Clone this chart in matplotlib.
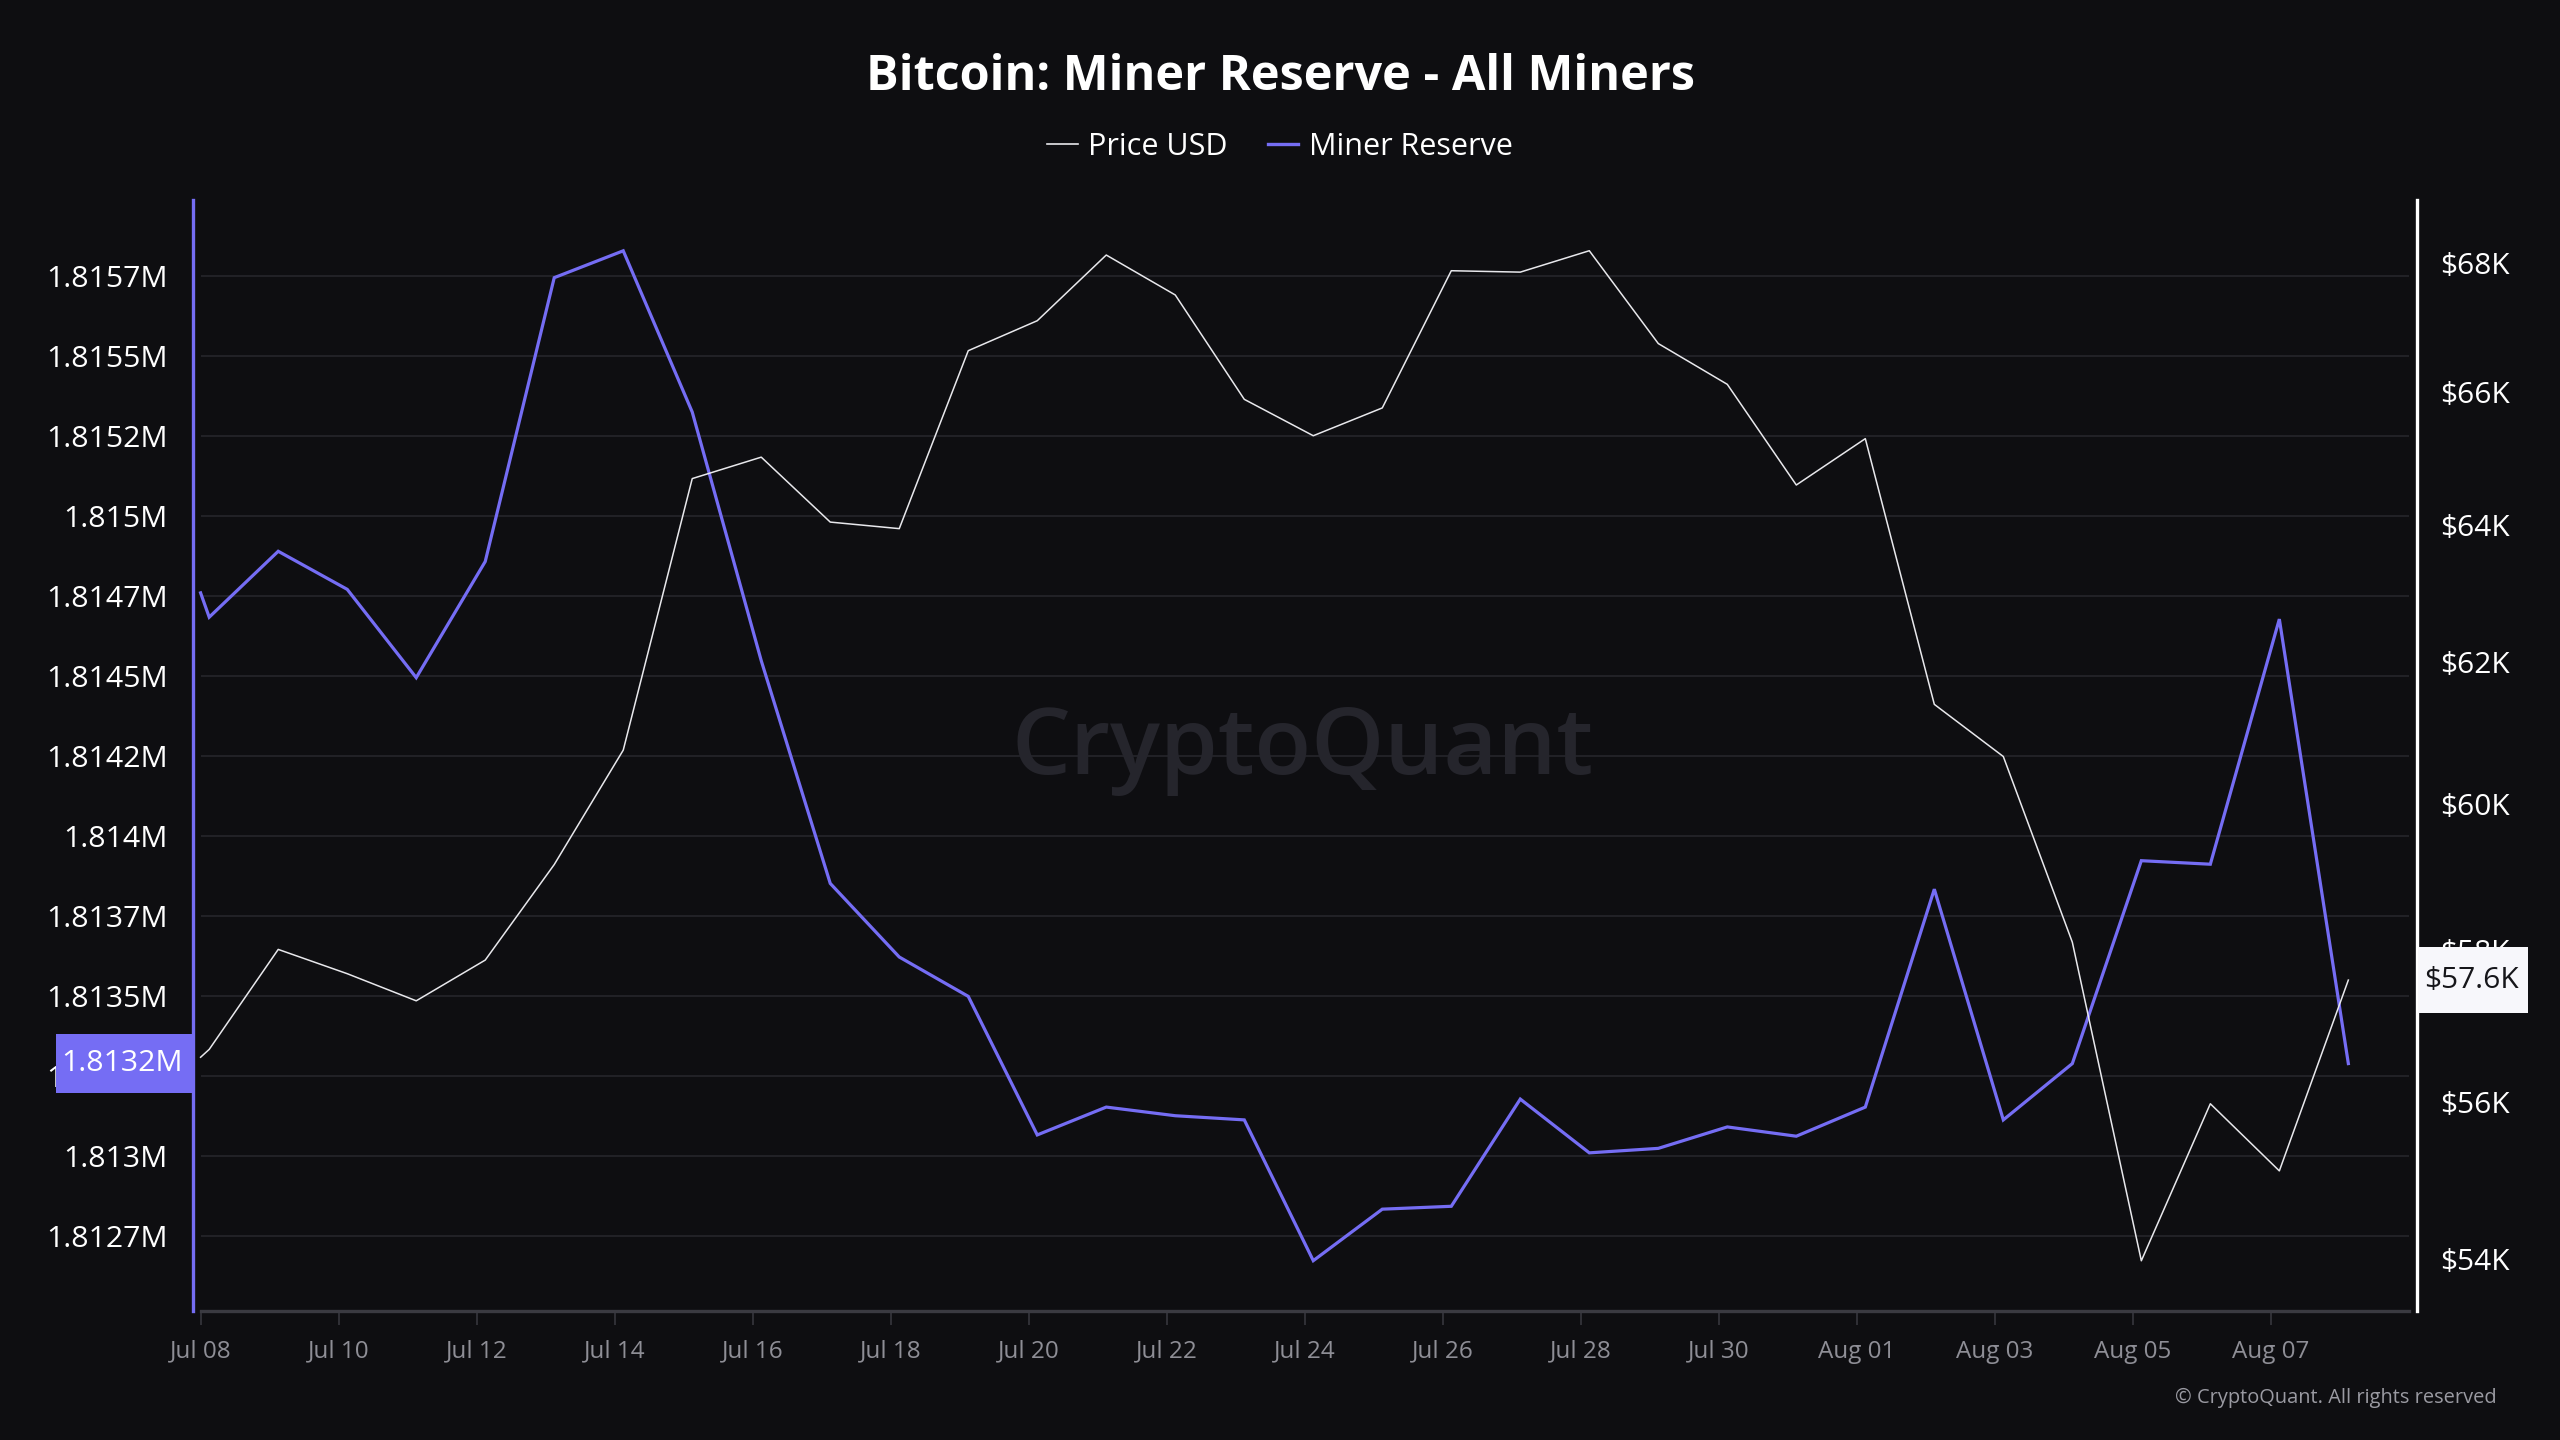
#!/usr/bin/env python3
import numpy as np
import pandas as pd
import matplotlib
matplotlib.use("Agg")
import matplotlib.pyplot as plt
import matplotlib.dates as mdates
import matplotlib.transforms as mtransforms
from matplotlib.patches import Rectangle
from matplotlib.ticker import FixedLocator, FixedFormatter, NullLocator

# --- values ---
# first sample sits on the left edge, the others are daily points (~03:00)
first_stamp = ["2024-07-08 00:00"]
daily_start = "2024-07-08 03:00"
n_daily = 32

# Miner reserve, millions of BTC
reserve_m = [
    1.814761, 1.814685, 1.814891, 1.814772, 1.814496, 1.814859, 1.815746,
    1.815830, 1.815326, 1.814549, 1.813853, 1.813623, 1.813500, 1.813067,
    1.813154, 1.813127, 1.813114, 1.812674, 1.812835, 1.812844, 1.813179,
    1.813011, 1.813025, 1.813092, 1.813063, 1.813154, 1.813835, 1.813114,
    1.813290, 1.813924, 1.813913, 1.814679, 1.813290,
]
# BTC price, USD
price_usd = [
    56578, 56681, 58008, 57683, 57322, 57865, 59159, 60747, 64688, 65010,
    64040, 63943, 66632, 67096, 68124, 67497, 65886, 65333, 65755, 67877,
    67855, 68192, 66742, 66115, 64592, 65289, 61394, 60657, 58105, 53974,
    55972, 55109, 57598,
]

reserve_ticks = [1.81275, 1.81300, 1.81325, 1.81350, 1.81375, 1.81400, 1.81425,
                 1.81450, 1.81475, 1.81500, 1.81525, 1.81550, 1.81575]
reserve_labels = ["1.8127M", "1.813M", "1.8132M", "1.8135M", "1.8137M", "1.814M",
                  "1.8142M", "1.8145M", "1.8147M", "1.815M", "1.8152M", "1.8155M",
                  "1.8157M"]
price_ticks = [54000, 56000, 58000, 60000, 62000, 64000, 66000, 68000]
price_labels = ["$54K", "$56K", "$58K", "$60K", "$62K", "$64K", "$66K", "$68K"]
date_ticks = pd.date_range("2024-07-08", "2024-08-07", freq="2D")
date_labels = [d.strftime("%b %d") for d in date_ticks]

last_reserve_label = "1.8132M"
last_price_label = "$57.6K"

axis_start = "2024-07-08"
axis_end = "2024-08-09"
reserve_lim = (1.812518, 1.8159875)
price_lim = (53355, 68991)

# --- style ---
BG = "#0e0e11"
BLUE = "#756df4"
GRID = "#222227"
AXIS_GRAY = "#3a3a41"
TICK_TXT = "#8e8e96"
FONT = ["Open Sans", "DejaVu Sans"]
plt.rcParams["font.family"] = FONT

dates = pd.to_datetime(first_stamp).append(
    pd.date_range(daily_start, periods=n_daily, freq="D"))

fig = plt.figure(figsize=(25.6, 14.4), dpi=100, facecolor=BG)
ax = fig.add_axes([0.07539, 0.08986, 0.86875, 0.77097])
ax.set_facecolor(BG)
ax2 = ax.twinx()

x0 = mdates.date2num(pd.Timestamp(axis_start))
x1 = mdates.date2num(pd.Timestamp(axis_end))
ax.set_xlim(x0 - 0.11, x1 + 0.12)

# left axis: miner reserve
ax.set_ylim(*reserve_lim)
ax.hlines(reserve_ticks, x0, x1, color=GRID, lw=1.4, zorder=0)
ax.plot(dates, reserve_m, color=BLUE, lw=2.3, zorder=3, solid_joinstyle="miter")
ax.yaxis.set_major_locator(FixedLocator(reserve_ticks))
ax.yaxis.set_major_formatter(FixedFormatter(reserve_labels))
ax.tick_params(axis="y", length=0, pad=18, labelsize=21.8, labelcolor="white")

ax.xaxis.set_major_locator(FixedLocator(mdates.date2num(date_ticks)))
ax.xaxis.set_major_formatter(FixedFormatter(date_labels))
ax.tick_params(axis="x", length=10, width=1.1, color=AXIS_GRAY, pad=11,
               labelsize=17.5, labelcolor=TICK_TXT)

for s in ["top", "right"]:
    ax.spines[s].set_visible(False)
ax.spines["left"].set_color(BLUE)
ax.spines["left"].set_linewidth(2.4)
ax.spines["bottom"].set_color(AXIS_GRAY)
ax.spines["bottom"].set_linewidth(2.4)
ax.spines["bottom"].set_bounds(x0, x1)

# right axis: price (log)
ax2.set_yscale("log")
ax2.set_ylim(*price_lim)
ax2.plot(dates, price_usd, color="#e8e8ec", lw=1.1, zorder=4)
ax2.yaxis.set_major_locator(FixedLocator(price_ticks))
ax2.yaxis.set_major_formatter(FixedFormatter(price_labels))
ax2.yaxis.set_minor_locator(NullLocator())
ax2.tick_params(axis="y", which="both", length=0, pad=17, labelsize=21.5,
                labelcolor="white")
for s in ["top", "left", "bottom"]:
    ax2.spines[s].set_visible(False)
ax2.spines["right"].set_color("white")
ax2.spines["right"].set_linewidth(2.4)

# last-value tags (box size in axes fraction x / data y)
tr_l = mtransforms.blended_transform_factory(ax.transAxes, ax.transData)
tag_h = 0.000184
ax.add_patch(Rectangle((-0.0617, reserve_m[-1] - tag_h / 2), 0.0617, tag_h,
                       transform=tr_l, fc=BLUE, ec="none", clip_on=False, zorder=9))
ax.annotate(last_reserve_label, xy=(0, reserve_m[-1]), xycoords=tr_l,
            xytext=(-7, 0), textcoords="offset points", ha="right", va="center",
            fontsize=21.8, color="white", annotation_clip=False, zorder=10)

tr_r = mtransforms.blended_transform_factory(ax2.transAxes, ax2.transData)
half = np.exp(0.00756)
p_last = price_usd[-1]
ax2.add_patch(Rectangle((1.0006, p_last / half), 0.0493, p_last * half - p_last / half,
                        transform=tr_r, fc="#f7f7fb", ec="none", clip_on=False,
                        zorder=9))
ax2.annotate(last_price_label, xy=(1, p_last), xycoords=tr_r,
             xytext=(5, 0), textcoords="offset points", ha="left", va="center",
             fontsize=21.5, color="#16161a", annotation_clip=False, zorder=10)

# watermark
ax.text(0.499, 0.505, "CryptoQuant", transform=ax.transAxes, ha="center",
        va="center", fontsize=67, fontweight="semibold", color="#25252c", zorder=1)

# title + legend
fig.text(0.5, 1 - 77 / 1440, "Bitcoin: Miner Reserve - All Miners", ha="center",
         va="center", fontsize=35, fontweight="bold", color="white")
h_price = plt.Line2D([], [], color="#e8e8ec", lw=1.2)
h_res = plt.Line2D([], [], color=BLUE, lw=2.4)
fig.legend([h_price, h_res], ["Price USD", "Miner Reserve"], loc="center",
           bbox_to_anchor=(0.5, 1 - 147 / 1440), ncol=2, frameon=False,
           fontsize=22, labelcolor="white", handlelength=1.0,
           handletextpad=0.35, columnspacing=1.3)

fig.text(2497 / 2560, 1 - 1398 / 1440, "© CryptoQuant. All rights reserved",
         ha="right", va="center", fontsize=14.4, color="#9a9aa2")

fig.savefig("out.png", dpi=100, facecolor=BG)
